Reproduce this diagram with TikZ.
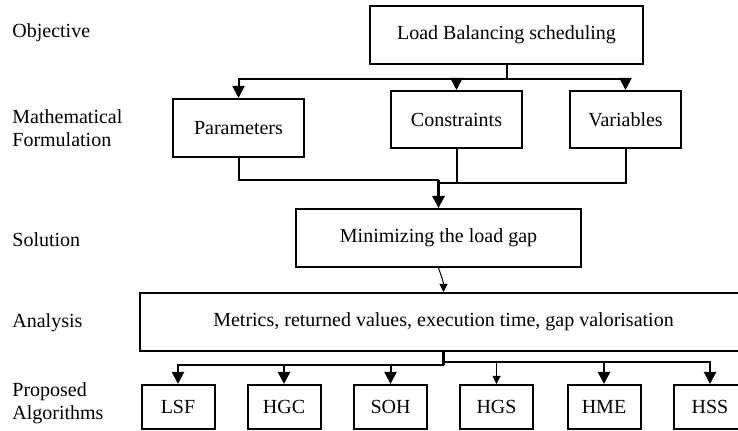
\documentclass[tikz,border=0pt]{standalone}
\usepackage{fontspec}
\setmainfont{Liberation Serif}
\usetikzlibrary{arrows.meta}

\begin{document}
\begin{tikzpicture}[x=0.5pt,y=-0.5pt,
  box/.style={draw,line width=1pt,inner sep=0pt,align=center},
  algbox/.style={box,minimum width=36.5pt,minimum height=22pt},
  lbl/.style={anchor=west,inner sep=0pt,align=left,font=\fontsize{10}{11.5}\selectfont},
  line/.style={line width=1pt},
  arr/.style={line,-{Triangle[length=6pt,width=6pt]}},
  thinarr/.style={line width=0.5pt,-{Triangle[length=4pt,width=4pt]}}]
\useasboundingbox (0,0) rectangle (738,431);
\node[lbl] (lobj) at (12,33) {Objective};
\node[lbl] (lmath) at (12,128) {Mathematical\\Formulation};
\node[lbl] (lsol) at (12,240) {Solution};
\node[lbl] (lana) at (12,323) {Analysis};
\node[lbl] (lalg) at (12,403) {Proposed\\Algorithms};
\node[box,minimum width=136.5pt,minimum height=29pt] (obj) at (506.5,35) {Load Balancing scheduling};
\node[box,minimum width=65.5pt,minimum height=29pt] (param) at (238.5,128) {Parameters};
\node[box,minimum width=65.5pt,minimum height=28.5pt] (cons) at (456.5,119.5) {Constraints};
\node[box,minimum width=55.5pt,minimum height=28.5pt] (vars) at (625.5,119.5) {Variables};
\node[box,minimum width=142.5pt,minimum height=29pt] (sol) at (438.5,238) {Minimizing the load gap};
\node[box,minimum width=303.5pt,minimum height=29pt] (ana) at (443.5,322) {Metrics, returned values, execution time, gap valorisation};
\node[algbox] (lsf) at (178,407) {LSF};
\node[algbox] (hgc) at (284,407) {HGC};
\node[algbox] (soh) at (390.5,407) {SOH};
\node[algbox] (hgs) at (496.5,407) {HGS};
\node[algbox] (hme) at (604,407) {HME};
\node[algbox] (hss) at (710,407) {HSS};
\coordinate (bar) at (0,79);
\coordinate (joinA) at (0,180);
\coordinate (joinB) at (0,183);
\coordinate (fork) at (0,365);
\coordinate (fork2) at (0,362);
\draw[line] (obj.south) -- (obj.south |- bar);
\draw[arr] (obj.south |- bar) -| (param.north);
\draw[arr] (obj.south |- bar) -| (cons.north);
\draw[arr] (obj.south |- bar) -| (vars.north);
\draw[line] (param.south) |- (sol.north |- joinA);
\draw[line] (cons.south) |- (sol.north |- joinB);
\draw[line] (vars.south) |- (cons.south |- joinB);
\draw[arr,line width=1.4pt] (sol.north |- joinA) -- (sol.north);
\draw[thinarr] (sol.south) to[out=-70,in=90] (ana.north);
\draw[line width=1.4pt] (ana.south) -- (ana.south |- fork);
\draw[arr] (ana.south |- fork) -| (lsf.north);
\draw[arr] (ana.south |- fork) -| (hgc.north);
\draw[arr] (ana.south |- fork) -| (soh.north);
\draw[thinarr] (ana.south |- fork2) -| (hgs.north);
\draw[arr] (ana.south |- fork2) -| (hme.north);
\draw[arr] (ana.south |- fork2) -| (hss.north);
\end{tikzpicture}
\end{document}
